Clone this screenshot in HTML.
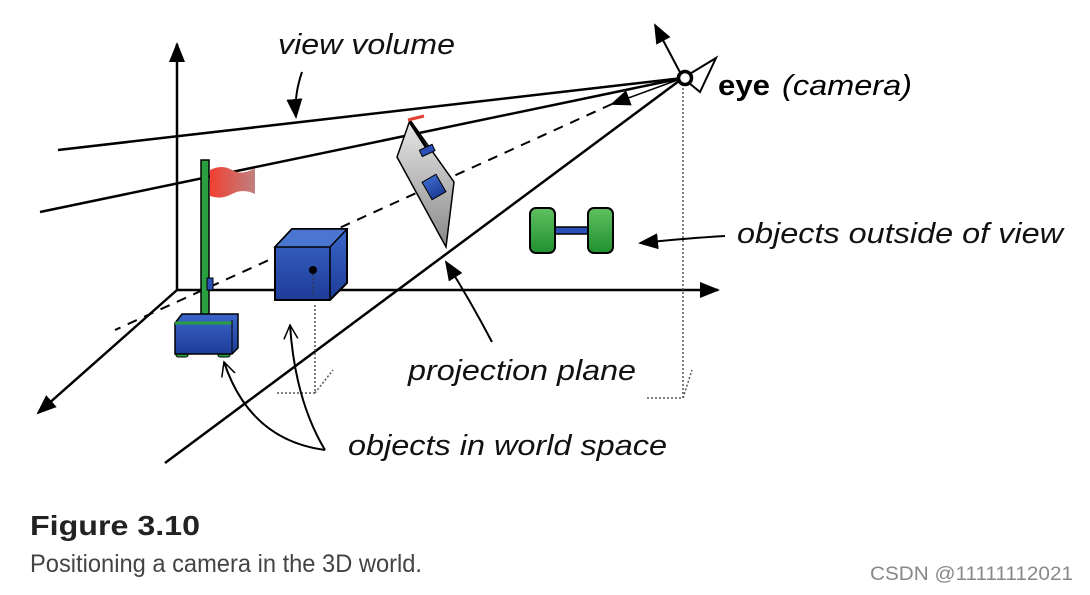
<!DOCTYPE html>
<html><head><style>
body{margin:0;background:#fff;width:1090px;height:590px;overflow:hidden}
</style></head><body>
<svg width="1090" height="590" viewBox="0 0 1090 590" xmlns="http://www.w3.org/2000/svg" font-family="Liberation Sans, sans-serif">
<defs>
<marker id="b" markerWidth="20" markerHeight="16" refX="18" refY="8" orient="auto" markerUnits="userSpaceOnUse"><path d="M0,0 L20,8 L0,16 z" fill="#000"/></marker>
<marker id="o" markerWidth="16" markerHeight="16" refX="14" refY="8" orient="auto" markerUnits="userSpaceOnUse"><path d="M0,1 L14,8 L0,15" fill="none" stroke="#000" stroke-width="1.5"/></marker>
<linearGradient id="g" x1="0" y1="0" x2="0" y2="1"><stop offset="0" stop-color="#e8e8e8"/><stop offset="1" stop-color="#888"/></linearGradient>
<linearGradient id="bl" x1="0" y1="0" x2="0" y2="1"><stop offset="0" stop-color="#3a66c8"/><stop offset="1" stop-color="#1e3c98"/></linearGradient>
<linearGradient id="rd" x1="0" y1="0" x2="1" y2="0"><stop offset="0" stop-color="#f04030"/><stop offset="1" stop-color="#c08080"/></linearGradient>
<linearGradient id="gr" x1="0" y1="0" x2="0" y2="1"><stop offset="0" stop-color="#60c060"/><stop offset="1" stop-color="#209030"/></linearGradient>
</defs>
<g stroke="#000" stroke-width="2.5" fill="none">
<line x1="177" y1="290" x2="177" y2="44" marker-end="url(#b)"/>
<line x1="177" y1="290" x2="718" y2="290" marker-end="url(#b)"/>
<line x1="177" y1="290" x2="38" y2="413" marker-end="url(#b)"/>
<line x1="683" y1="78" x2="58" y2="150"/>
<line x1="683" y1="78" x2="40" y2="212"/>
<line x1="683" y1="78" x2="165" y2="463"/>
<line x1="683" y1="78" x2="612" y2="104" marker-end="url(#b)" stroke-width="1.5"/>
<line x1="612" y1="104" x2="115" y2="330" stroke-dasharray="10,8" stroke-width="2"/>
<line x1="683" y1="78" x2="655" y2="25" marker-end="url(#b)" stroke-width="2"/>
</g>
<g stroke="#555" stroke-width="1.5" stroke-dasharray="2,2" fill="none">
<polyline points="683,84 683,398 645,398"/>
<line x1="683" y1="398" x2="692" y2="370"/>
<polyline points="315,305 315,393 275,393"/>
<line x1="315" y1="393" x2="333" y2="370"/>
</g>
<path d="M683,78 L716,58 L700,92 Z" fill="#fff" stroke="#000" stroke-width="2"/>
<circle cx="685" cy="78" r="6.5" fill="#fff" stroke="#000" stroke-width="3.5"/>
<polygon points="410,120 397,157 446,247 454,182" fill="url(#g)" stroke="#000" stroke-width="1.5"/>
<line x1="410" y1="122" x2="428" y2="150" stroke="#000" stroke-width="3"/>
<line x1="408" y1="120" x2="424" y2="116" stroke="#e04030" stroke-width="3"/>
<rect x="420" y="147" width="14" height="7" fill="#2a50b8" stroke="#000" transform="rotate(-25 427 150)"/>
<rect x="426" y="177" width="16" height="20" fill="url(#bl)" stroke="#000" transform="rotate(-30 434 187)"/>
<path d="M210,170 Q222,164 232,170 T255,168 L255,194 Q243,188 232,194 T210,196 Z" fill="url(#rd)"/>
<rect x="201" y="160" width="8" height="162" fill="#2aa040" stroke="#000" stroke-width="1.5"/>
<rect x="207" y="278" width="6" height="12" fill="#2a50b8" stroke="#000"/>
<rect x="176" y="350" width="12" height="7" rx="2" fill="#2aa040" stroke="#000"/>
<rect x="218" y="350" width="12" height="7" rx="2" fill="#2aa040" stroke="#000"/>
<polygon points="175,323 182,314 238,314 238,348 232,354 175,354" fill="url(#bl)" stroke="#000" stroke-width="1.5"/>
<line x1="175" y1="323" x2="232" y2="323" stroke="#2aa040" stroke-width="3"/>
<line x1="232" y1="320" x2="232" y2="354" stroke="#000"/>
<polygon points="275,247 292,229 347,229 347,283 330,300 275,300" fill="url(#bl)" stroke="#000" stroke-width="2"/>
<polygon points="275,247 292,229 347,229 330,247" fill="#4a76d0" stroke="#000" stroke-width="1.5"/>
<line x1="330" y1="247" x2="330" y2="300" stroke="#000" stroke-width="1.5"/>
<circle cx="313" cy="270" r="4" fill="#000"/>
<line x1="313" y1="274" x2="313" y2="295" stroke="#333" stroke-dasharray="2,2"/>
<rect x="552" y="227" width="40" height="7" fill="#2a50b8" stroke="#000" stroke-width="1.5"/>
<rect x="530" y="208" width="25" height="45" rx="6" fill="url(#gr)" stroke="#000" stroke-width="2"/>
<rect x="588" y="208" width="25" height="45" rx="6" fill="url(#gr)" stroke="#000" stroke-width="2"/>
<g stroke="#000" stroke-width="2" fill="none">
<path d="M302,72 Q294,95 296,117" marker-end="url(#b)"/>
<path d="M725,236 Q690,238 640,243" marker-end="url(#b)"/>
<path d="M492,342 Q470,300 446,262" marker-end="url(#b)"/>
<path d="M325,450 Q250,440 224,362" marker-end="url(#o)"/>
<path d="M325,450 Q295,400 290,325" marker-end="url(#o)"/>
</g>
<g font-style="italic" font-size="29" fill="#111">
<text x="278" y="54" textLength="177" lengthAdjust="spacingAndGlyphs">view volume</text>
<text x="737" y="243" textLength="326" lengthAdjust="spacingAndGlyphs">objects outside of view</text>
<text x="408" y="380" textLength="228" lengthAdjust="spacingAndGlyphs">projection plane</text>
<text x="348" y="455" textLength="319" lengthAdjust="spacingAndGlyphs">objects in world space</text>
</g>
<text x="718" y="95" font-size="29" font-weight="bold" textLength="52" lengthAdjust="spacingAndGlyphs">eye</text>
<text x="782" y="95" font-size="29" font-style="italic" textLength="130" lengthAdjust="spacingAndGlyphs">(camera)</text>
<text x="30" y="535" font-size="28" font-weight="bold" fill="#222" textLength="170" lengthAdjust="spacingAndGlyphs">Figure 3.10</text>
<text x="30" y="572" font-size="25" fill="#444" textLength="392" lengthAdjust="spacingAndGlyphs">Positioning a camera in the 3D world.</text>
<text x="870" y="580" font-size="19" fill="#888" textLength="203" lengthAdjust="spacingAndGlyphs">CSDN @11111112021</text>
</svg>
</body></html>
